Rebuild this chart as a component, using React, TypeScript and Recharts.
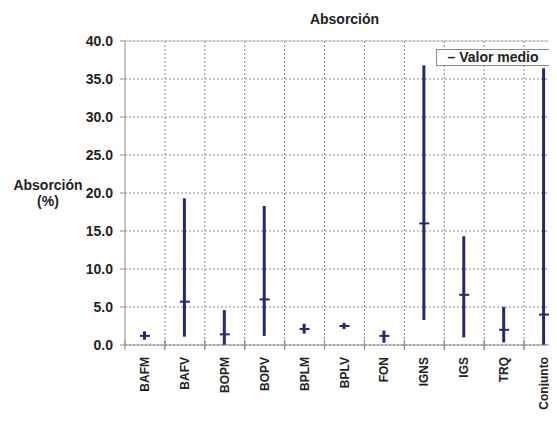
import { ComposedChart, Bar, Scatter, XAxis, YAxis, CartesianGrid, ReferenceLine } from "recharts";

const categories = ["BAFM", "BAFV", "BOPM", "BOPV", "BPLM", "BPLV", "FON", "IGNS", "IGS", "TRQ", "Conjunto"];
const minValues = [0.7, 1.1, 0.0, 1.2, 1.5, 2.1, 0.3, 3.3, 1.0, 0.35, 0.0];
const maxValues = [1.8, 19.3, 4.6, 18.3, 2.8, 2.9, 1.9, 36.8, 14.3, 5.0, 36.4];
const meanValues = [1.2, 5.7, 1.4, 6.0, 2.1, 2.5, 1.2, 16.0, 6.6, 2.0, 4.0];
const yTicks = [0, 5, 10, 15, 20, 25, 30, 35, 40];

const data = categories.map((name, i) => ({
  name,
  range: [minValues[i], maxValues[i]],
  mean: meanValues[i],
}));

const NAVY = "#232873";
const AXIS = "#8c8c8c";
const FONT = "'Liberation Sans', Arial, sans-serif";

const CHART_W = 570;
const CHART_H = 421;
const MARGIN = { top: 41, right: 6, left: 65, bottom: 6 };
const Y_AXIS_W = 60;
const PLOT_W = CHART_W - MARGIN.left - MARGIN.right - Y_AXIS_W;
const BAND = PLOT_W / categories.length;

function XTick({ x, y, payload }: any) {
  return (
    <g>
      <line x1={x - BAND / 2} x2={x - BAND / 2} y1={y - 5} y2={y + 5} stroke={AXIS} />
      <line x1={x + BAND / 2} x2={x + BAND / 2} y1={y - 5} y2={y + 5} stroke={AXIS} />
      <text
        transform={`translate(${x + 4},${y + 12}) rotate(-90)`}
        textAnchor="end"
        fontSize={12}
        fontWeight="bold"
        fill="#222"
        fontFamily={FONT}
      >
        {payload.value}
      </text>
    </g>
  );
}

function MeanMark({ cx, cy }: any) {
  return <line x1={cx - 5} x2={cx + 5} y1={cy} y2={cy} stroke={NAVY} strokeWidth={2} />;
}

function YLabel({ viewBox }: any) {
  const cx = viewBox.x - 17;
  return (
    <text textAnchor="middle" fontSize={14} fontWeight="bold" fill="#222" fontFamily={FONT}>
      <tspan x={cx} y={190}>Absorción</tspan>
      <tspan x={cx} y={206}>(%)</tspan>
    </text>
  );
}

export default function App() {
  return (
    <div style={{ position: "relative", width: 557, height: 421, overflow: "hidden", margin: -8, background: "#fff" }}>
      <div
        style={{
          position: "absolute",
          top: 11,
          left: 125,
          width: 439,
          textAlign: "center",
          fontFamily: FONT,
          fontWeight: "bold",
          fontSize: 14,
          color: "#222",
          zIndex: 2,
        }}
      >
        Absorción
      </div>
      <div
        style={{
          position: "absolute",
          top: 49,
          left: 436,
          width: 112,
          border: "1px solid #8c8c8c",
          background: "#fff",
          fontFamily: FONT,
          fontWeight: "bold",
          fontSize: 14,
          color: "#222",
          height: 15,
          lineHeight: "15px",
          textAlign: "center",
          whiteSpace: "nowrap",
          zIndex: 2,
        }}
      >
        – Valor medio
      </div>
      <ComposedChart width={CHART_W} height={CHART_H} data={data} margin={MARGIN}>
        <CartesianGrid
          stroke="#8a8a8a"
          strokeDasharray="2 2"
          verticalCoordinatesGenerator={({ offset }: any) =>
            categories.slice(1).map((_, i) => offset.left + (i + 1) * (offset.width / categories.length))
          }
        />
        <ReferenceLine y={40} stroke="#c8c8c8" />
        <XAxis
          dataKey="name"
          height={70}
          interval={0}
          tickLine={false}
          tickSize={0}
          tickMargin={0}
          stroke={AXIS}
          tick={<XTick />}
        />
        <YAxis
          width={Y_AXIS_W}
          domain={[0, 40]}
          ticks={yTicks}
          interval={0}
          tickFormatter={(v: number) => v.toFixed(1)}
          stroke={AXIS}
          tickSize={5}
          tickMargin={7}
          tick={{ fontSize: 14, fontWeight: "bold", fill: "#222", fontFamily: FONT }}
          label={{ content: <YLabel /> }}
        />
        <Bar dataKey="range" barSize={3} fill={NAVY} isAnimationActive={false} />
        <Scatter dataKey="mean" name="Valor medio" shape={<MeanMark />} isAnimationActive={false} />
      </ComposedChart>
    </div>
  );
}
